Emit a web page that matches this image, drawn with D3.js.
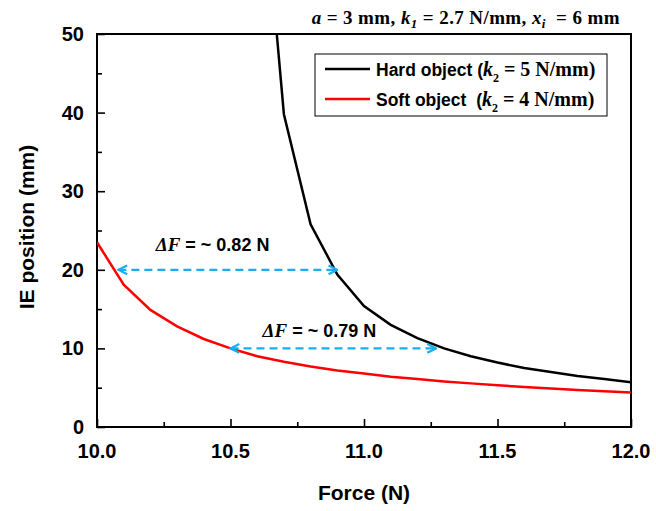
<!DOCTYPE html>
<html>
<head>
<meta charset="utf-8">
<script src="https://cdn.jsdelivr.net/npm/d3@7"></script>
<style>
  body { margin: 0; background: #fff; }
  text { font-family: Arial, "Liberation Sans", sans-serif; font-weight: bold; }
  .serif { font-family: "Times New Roman", "Liberation Serif", serif; }
</style>
</head>
<body>
<svg id="chart" width="656" height="511"></svg>
<script>
// values
var hardForce = [10.6, 10.7, 10.8, 10.9, 11.0, 11.1, 11.2, 11.3, 11.4, 11.5, 11.6, 11.7, 11.8, 11.9, 12.0];
var hardPos   = [78, 39.8, 25.8, 19.4, 15.4, 13.0, 11.3, 10.0, 9.0, 8.2, 7.5, 7.0, 6.5, 6.1, 5.7];
var softForce = [10.0, 10.1, 10.2, 10.3, 10.4, 10.5, 10.6, 10.7, 10.8, 10.9, 11.0, 11.1, 11.2, 11.3, 11.4, 11.5, 11.6, 11.7, 11.8, 11.9, 12.0];
var softPos   = [23.5, 18.1, 14.9, 12.8, 11.2, 10.0, 9.0, 8.3, 7.7, 7.2, 6.8, 6.4, 6.1, 5.8, 5.55, 5.3, 5.1, 4.9, 4.7, 4.55, 4.4];
var xTicks = [10.0, 10.5, 11.0, 11.5, 12.0];
var yTicks = [0, 10, 20, 30, 40, 50];
// double arrows: [from force, to force, position], label
var arrows = [[10.08, 10.9, 20], [10.5, 11.27, 10]];
var arrowLabels = ["~ 0.82 N", "~ 0.79 N"];
var labelAt = [[10.22, 22.45], [10.62, 11.5]];

var svg = d3.select("#chart");
var mLeft = 97, mRight = 631, mTop = 34, mBottom = 427;

var x = d3.scaleLinear().domain([10, 12]).range([mLeft, mRight]);
var y = d3.scaleLinear().domain([0, 50]).range([mBottom, mTop]);

var defs = svg.append("defs");
defs.append("clipPath").attr("id", "clip")
  .append("rect").attr("x", mLeft).attr("y", mTop).attr("width", mRight - mLeft).attr("height", mBottom - mTop);

var blue = "#1aaef0";
defs.append("marker").attr("id", "ah").attr("viewBox", "0 0 10 10")
  .attr("refX", 9).attr("refY", 5)
  .attr("orient", "auto-start-reverse").attr("markerUnits", "userSpaceOnUse")
  .attr("markerWidth", 11).attr("markerHeight", 11)
  .append("path").attr("d", "M1,1 L9,5 L1,9").attr("fill", "none")
  .attr("stroke", blue).attr("stroke-width", 2);

// axes, ticks inward
var xAxis = d3.axisBottom(x).tickValues(d3.range(10, 12.001, 0.25)).tickSizeOuter(0).tickFormat("");
var yAxis = d3.axisLeft(y).tickValues(d3.range(0, 50.001, 5)).tickSizeOuter(0).tickFormat("");

var gx = svg.append("g").attr("transform", "translate(0," + mBottom + ")").call(xAxis);
var gy = svg.append("g").attr("transform", "translate(" + mLeft + ",0)").call(yAxis);
gx.selectAll(".tick line").attr("y2", function (d) { return Math.abs(d * 2 - Math.round(d * 2)) < 1e-6 ? -8 : -5; });
gy.selectAll(".tick line").attr("x2", function (d) { return d % 10 === 0 ? 8 : 5; });
svg.selectAll(".domain").remove();
svg.selectAll(".tick line").attr("stroke", "#000").attr("stroke-width", 1.6);

svg.append("rect").attr("x", mLeft).attr("y", mTop).attr("width", mRight - mLeft).attr("height", mBottom - mTop)
  .attr("fill", "none").attr("stroke", "#000").attr("stroke-width", 2);

svg.selectAll(".xl").data(xTicks).enter().append("text")
  .attr("x", function (d) { return x(d); }).attr("y", 458)
  .attr("text-anchor", "middle").attr("font-size", 20).text(function (d) { return d.toFixed(1); });
svg.selectAll(".yl").data(yTicks).enter().append("text")
  .attr("x", 84).attr("y", function (d) { return y(d) + 7; })
  .attr("text-anchor", "end").attr("font-size", 20).text(function (d) { return d; });

svg.append("text").attr("x", (mLeft + mRight) / 2).attr("y", 500).attr("text-anchor", "middle")
  .attr("font-size", 21).text("Force (N)");
svg.append("text").attr("transform", "translate(34,227) rotate(-90)")
  .attr("text-anchor", "middle").attr("font-size", 21).text("IE position (mm)");

// curves
var line = d3.line().x(function (d) { return x(d[0]); }).y(function (d) { return y(d[1]); });
var plot = svg.append("g").attr("clip-path", "url(#clip)");
plot.append("path").datum(d3.zip(softForce, softPos)).attr("d", line)
  .attr("fill", "none").attr("stroke", "#ff0000").attr("stroke-width", 2.5);
plot.append("path").datum(d3.zip(hardForce, hardPos)).attr("d", line)
  .attr("fill", "none").attr("stroke", "#000").attr("stroke-width", 2.5);

// delta F arrows
svg.selectAll(".arr").data(arrows).enter().append("line")
  .attr("x1", function (d) { return x(d[0]); }).attr("x2", function (d) { return x(d[1]); })
  .attr("y1", function (d) { return y(d[2]); }).attr("y2", function (d) { return y(d[2]); })
  .attr("stroke", blue).attr("stroke-width", 2.2).attr("stroke-dasharray", "8,5")
  .attr("marker-start", "url(#ah)").attr("marker-end", "url(#ah)");

arrowLabels.forEach(function (lab, i) {
  var t = svg.append("text").attr("x", x(labelAt[i][0])).attr("y", y(labelAt[i][1])).attr("font-size", 18)
    .style("white-space", "pre");
  t.append("tspan").attr("class", "serif").attr("font-style", "italic").attr("font-size", 19).text("ΔF");
  t.append("tspan").text(" = " + lab);
});

// legend
svg.append("rect").attr("x", 315).attr("y", 54).attr("width", 292).attr("height", 62)
  .attr("fill", "#fff").attr("stroke", "#000").attr("stroke-width", 1);
var legNames = ["Hard object (", "Soft object  ("];
var legK = ["5 N/mm)", "4 N/mm)"];
var legColors = ["#000", "#ff0000"];
legNames.forEach(function (n, i) {
  var yy = 69 + i * 30;
  svg.append("line").attr("x1", 325).attr("x2", 370).attr("y1", yy).attr("y2", yy)
    .attr("stroke", legColors[i]).attr("stroke-width", 2.5);
  var t = svg.append("text").attr("x", 376).attr("y", yy + 7).attr("font-size", 17.5).style("white-space", "pre");
  t.append("tspan").text(n);
  t.append("tspan").attr("class", "serif").attr("font-style", "italic").attr("font-size", 20).text("k");
  t.append("tspan").attr("class", "serif").attr("font-size", 12).attr("dy", 6).text("2");
  t.append("tspan").attr("class", "serif").attr("font-size", 20).attr("dy", -6).text(" = " + legK[i]);
});

// parameters
var p = svg.append("text").attr("class", "serif").attr("x", 620).attr("y", 24)
  .attr("text-anchor", "end").attr("font-size", 19).style("white-space", "pre")
  .attr("letter-spacing", 0.4);
p.append("tspan").attr("font-style", "italic").text("a");
p.append("tspan").text(" = 3 mm, ");
p.append("tspan").attr("font-style", "italic").text("k");
p.append("tspan").attr("font-style", "italic").attr("font-size", 13).attr("dy", 4).text("1");
p.append("tspan").attr("dy", -4).text(" = 2.7 N/mm, ");
p.append("tspan").attr("font-style", "italic").text("x");
p.append("tspan").attr("font-style", "italic").attr("font-size", 13).attr("dy", 4).text("i");
p.append("tspan").attr("dy", -4).text("  = 6 mm");
</script>
</body>
</html>
